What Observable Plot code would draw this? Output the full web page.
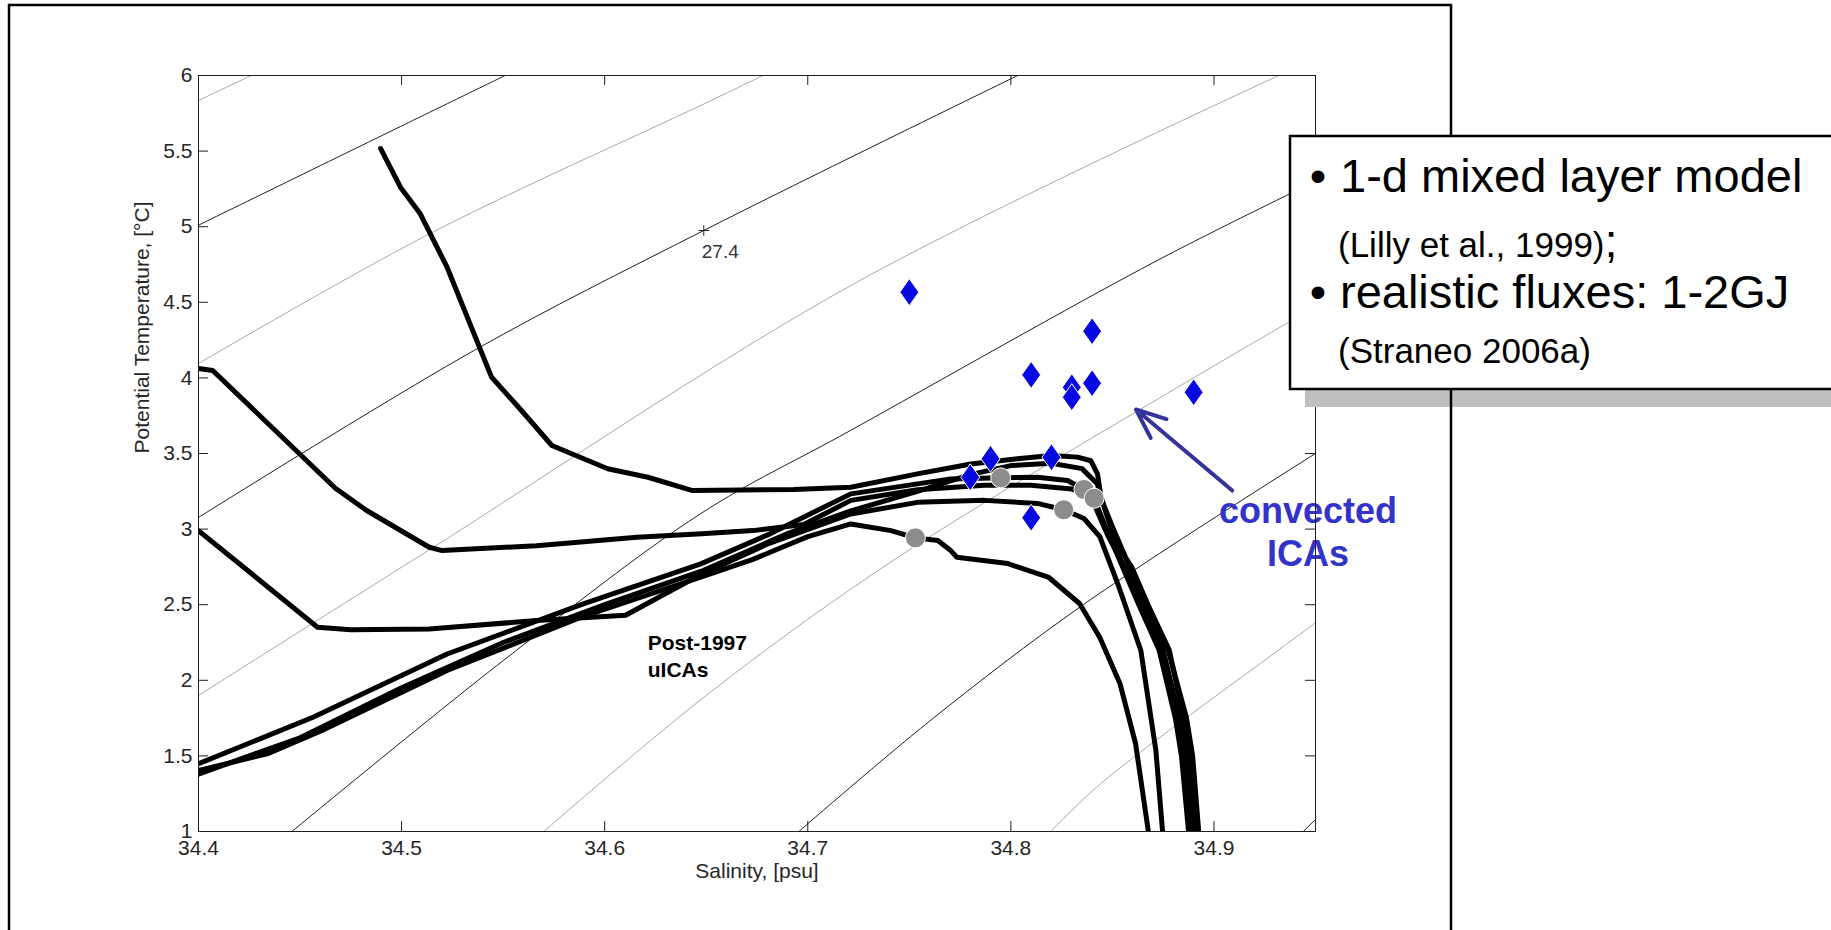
<!DOCTYPE html>
<html>
<head>
<meta charset="utf-8">
<script src="https://cdn.jsdelivr.net/npm/d3@7"></script>
<script src="https://cdn.jsdelivr.net/npm/@observablehq/plot@0.6"></script>
<style>
  html, body { margin: 0; padding: 0; background: #fff; }
  #chart { position: relative; width: 1831px; height: 930px; overflow: hidden; }
</style>
</head>
<body>
<div id="chart"></div>
<script>
// ---------- tick values ----------
const xTicks = [34.4, 34.5, 34.6, 34.7, 34.8, 34.9];
const yTicks = [1, 1.5, 2, 2.5, 3, 3.5, 4, 4.5, 5, 5.5, 6];

// ---------- isopycnals (salinity, potential temperature) ----------
const sigma2725 = [[34.4, 5.835], [34.426, 6.0]];
const sigma273  = [[34.4, 5.01], [34.4995, 5.663], [34.551, 6.0]];
const sigma2735 = [[34.4, 4.095], [34.5136, 4.952], [34.647, 5.80], [34.678, 6.0]];
const sigma274  = [[34.4, 3.077], [34.5355, 4.18], [34.6488, 4.975], [34.8034, 6.0]];
const sigma2745 = [[34.4, 1.90], [34.5133, 2.86], [34.7212, 4.611], [34.932, 6.0]];
const sigma275  = [[34.446, 1.0], [34.55, 2.13], [34.647, 3.10], [34.721, 3.652], [34.872, 4.776], [34.95, 5.30]];
const sigma2755 = [[34.570, 1.0], [34.65, 1.90], [34.742, 2.792], [34.8936, 4.029], [34.95, 4.47]];
const sigma276  = [[34.6956, 1.0], [34.76, 1.73], [34.8365, 2.508], [34.95, 3.5]];
const sigma2765 = [[34.8197, 1.0], [34.8443, 1.317], [34.9315, 2.197], [34.95, 2.38]];
const sigma277  = [[34.944, 1.0], [34.95, 1.08]];
const isoLabelPos = [34.6488, 4.975];
const isoLabelText = "27.4";

// ---------- T-S profiles ----------
const profile1 = [[34.4897,5.517],[34.4995,5.26],[34.5092,5.085],[34.5224,4.732],[34.5443,4.005],[34.5576,3.806],[34.574,3.553],[34.6015,3.399],[34.6213,3.343],[34.6433,3.255],[34.693,3.262],[34.7212,3.277],[34.754,3.365],[34.7803,3.431],[34.8033,3.465],[34.8197,3.487],[34.8329,3.476],[34.8394,3.452],[34.8427,3.364],[34.8445,3.2],[34.8505,3.0],[34.8585,2.75],[34.8665,2.5],[34.8775,2.2],[34.8865,1.75],[34.8895,1.5],[34.8925,1.0]];
const profile2 = [[34.4,4.062],[34.407,4.049],[34.4674,3.27],[34.4828,3.123],[34.5136,2.88],[34.52,2.858],[34.5664,2.89],[34.6158,2.946],[34.6478,2.97],[34.673,2.99],[34.698,3.03],[34.7212,3.19],[34.754,3.26],[34.7869,3.29],[34.81,3.29],[34.83,3.265],[34.841,3.204],[34.847,3.0],[34.855,2.75],[34.863,2.5],[34.873,2.2],[34.881,1.75],[34.884,1.5],[34.8875,1.0]];
const profile3 = [[34.4,2.99],[34.4586,2.351],[34.475,2.335],[34.5136,2.34],[34.5664,2.395],[34.6103,2.43],[34.6473,2.70],[34.68,2.90],[34.7212,3.10],[34.754,3.177],[34.7869,3.19],[34.8131,3.17],[34.826,3.128],[34.836,3.07],[34.8438,2.95],[34.8526,2.64],[34.864,2.197],[34.8714,1.536],[34.8747,1.0]];
const profile4 = [[34.4,1.448],[34.4564,1.756],[34.5224,2.174],[34.5884,2.50],[34.6473,2.77],[34.68,2.96],[34.7212,3.233],[34.7704,3.332],[34.795,3.339],[34.8131,3.343],[34.8279,3.321],[34.836,3.262],[34.8415,3.15],[34.848,2.95],[34.856,2.75],[34.8645,2.5],[34.875,2.2],[34.883,1.75],[34.886,1.5],[34.889,1.0]];
const profile5 = [[34.4,1.403],[34.4344,1.516],[34.4608,1.668],[34.5224,2.065],[34.5884,2.417],[34.6473,2.682],[34.673,2.80],[34.70,2.95],[34.7212,3.034],[34.741,2.99],[34.753,2.942],[34.764,2.925],[34.7704,2.858],[34.7734,2.814],[34.7985,2.772],[34.8187,2.68],[34.8338,2.508],[34.8438,2.283],[34.8537,1.979],[34.8614,1.582],[34.8677,1.0]];
const profile6 = [[34.4,1.38],[34.45,1.62],[34.50,1.95],[34.55,2.25],[34.60,2.50],[34.6473,2.72],[34.69,2.97],[34.7212,3.12],[34.754,3.25],[34.78,3.36],[34.80,3.42],[34.82,3.435],[34.835,3.40],[34.8425,3.30],[34.847,3.1],[34.852,2.9],[34.8595,2.75],[34.8675,2.5],[34.878,2.2],[34.885,1.75],[34.888,1.5],[34.8905,1.0]];

// ---------- markers ----------
const diamondS = [34.75, 34.84, 34.81, 34.84, 34.83, 34.83, 34.89, 34.79, 34.82, 34.78, 34.81];
const diamondT = [4.567, 4.309, 4.020, 3.965, 3.938, 3.872, 3.905, 3.465, 3.475, 3.343, 3.075];
const circleS = [34.795, 34.836, 34.841, 34.826, 34.753];
const circleT = [3.339, 3.262, 3.204, 3.128, 2.942];

// ---------- annotations ----------
const postLabelPos = [34.6212, 2.019];
const postLabelText = "Post-1997\nuICAs";
const convectedPos = [34.9463, 2.759];
const convectedText = "convected\nICAs";
const arrowFrom = [34.909, 3.255];
const arrowTo = [34.8616, 3.791];
const xLabel = "Salinity, [psu]";
const yLabel = "Potential Temperature, [°C]";
const boxLine1 = "1-d mixed layer model";
const boxLine2 = "(Lilly et al., 1999)";
const boxLine3 = "realistic fluxes: 1-2GJ";
const boxLine4 = "(Straneo 2006a)";

// ---------- build tables ----------
const rows = (arr, key) => arr.map(([s, t]) => ({key, s, t}));
const majorIso = [...rows(sigma273, 27.3), ...rows(sigma274, 27.4), ...rows(sigma275, 27.5), ...rows(sigma276, 27.6), ...rows(sigma277, 27.7)];
const minorIso = [...rows(sigma2725, 27.25), ...rows(sigma2735, 27.35), ...rows(sigma2745, 27.45), ...rows(sigma2755, 27.55), ...rows(sigma2765, 27.65)];
const profRows = [profile1, profile2, profile3, profile4, profile5, profile6].flatMap((p, i) => rows(p, i));
const diamonds = diamondS.map((s, i) => ({s, t: diamondT[i]}));
const circles = circleS.map((s, i) => ({s, t: circleT[i]}));

const W = 1831, H = 930;
const mL = 198, mR = 516, mT = 75, mB = 99;
const innerW = W - mL - mR, innerH = H - mT - mB;
const tickLen = 10;
const FONT = "'Liberation Sans', Arial, Helvetica, sans-serif";

const tallDiamond = {
  draw(ctx, size) {
    const a = Math.sqrt(size / Math.PI);
    ctx.moveTo(0, -1.42 * a);
    ctx.lineTo(a, 0);
    ctx.lineTo(0, 1.42 * a);
    ctx.lineTo(-a, 0);
    ctx.closePath();
  }
};

const plot = Plot.plot({
  width: W, height: H,
  marginLeft: mL, marginRight: mR, marginTop: mT, marginBottom: mB,
  style: {fontFamily: FONT, color: "#262626", background: "white"},
  x: {domain: [34.4, 34.95]},
  y: {domain: [1, 6]},
  marks: [
    Plot.line(minorIso, {x: "s", y: "t", z: "key", stroke: "#a8a8a8", strokeWidth: 1, curve: "catmull-rom", clip: true}),
    Plot.line(majorIso, {x: "s", y: "t", z: "key", stroke: "#1e1e1e", strokeWidth: 1, curve: "catmull-rom", clip: true}),
    Plot.dot([isoLabelPos], {x: d => d[0], y: d => d[1], symbol: "plus", r: 3.5, stroke: "#1e1e1e", strokeWidth: 1}),
    Plot.text([isoLabelPos], {x: d => d[0], y: d => d[1], text: () => isoLabelText, textAnchor: "start", lineAnchor: "bottom", dx: -2, dy: 28, fontSize: 19, fill: "#333"}),
    Plot.line(profRows, {x: "s", y: "t", z: "key", stroke: "black", strokeWidth: 5, strokeLinejoin: "round", strokeLinecap: "round", clip: true}),
    Plot.dot(circles, {x: "s", y: "t", r: 10, fill: "#8c8c8c", stroke: "white", strokeWidth: 1}),
    Plot.dot(diamonds, {x: "s", y: "t", r: 9.5, symbol: tallDiamond, fill: "#0808e0", stroke: "white", strokeWidth: 1}),
    Plot.text([postLabelPos], {x: d => d[0], y: d => d[1], text: () => postLabelText, textAnchor: "start", lineAnchor: "bottom", lineHeight: 1.29, fontSize: 21, fontWeight: "bold", fill: "black"}),
    Plot.arrow([[...arrowFrom, ...arrowTo]], {x1: d => d[0], y1: d => d[1], x2: d => d[2], y2: d => d[3], stroke: "#333399", strokeWidth: 4, headLength: 12, headAngle: 45}),
    Plot.text([convectedPos], {x: d => d[0], y: d => d[1], text: () => convectedText, textAnchor: "middle", lineAnchor: "bottom", lineHeight: 1.19, fontSize: 36, fontWeight: "bold", fill: "#3333cc"}),
    Plot.frame({stroke: "#1e1e1e", strokeWidth: 1}),
    Plot.tickX(xTicks, {x: d => d, insetTop: innerH - tickLen, stroke: "#1e1e1e"}),
    Plot.tickX(xTicks, {x: d => d, insetBottom: innerH - tickLen, stroke: "#1e1e1e"}),
    Plot.tickY(yTicks, {y: d => d, insetRight: innerW - tickLen, stroke: "#1e1e1e"}),
    Plot.tickY(yTicks, {y: d => d, insetLeft: innerW - tickLen, stroke: "#1e1e1e"}),
    Plot.axisX({ticks: xTicks, tickSize: 0, tickPadding: 9, fontSize: 21, tickFormat: d => String(d), label: null}),
    Plot.axisY({ticks: yTicks, tickSize: 0, tickPadding: 6, fontSize: 21, tickFormat: d => String(d), label: null}),
    Plot.text([xLabel], {frameAnchor: "bottom", dy: 46, text: d => d, fontSize: 21}),
    Plot.text([yLabel], {frameAnchor: "left", dx: -56, rotate: -90, text: d => d, fontSize: 21})
  ]
});

document.getElementById("chart").appendChild(plot);

// ---------- slide decorations: outer frame and text box ----------
const svg = d3.select(plot);
const ov = svg.append("g").attr("font-family", FONT).attr("text-anchor", "start");
ov.append("rect").attr("x", 1305).attr("y", 154).attr("width", 600).attr("height", 253).attr("fill", "#bfbfbf");
ov.append("rect").attr("x", 9).attr("y", 5).attr("width", 1442).attr("height", 1000)
  .attr("fill", "none").attr("stroke", "black").attr("stroke-width", 2.5);
ov.append("rect").attr("x", 1290).attr("y", 136).attr("width", 600).attr("height", 253)
  .attr("fill", "white").attr("stroke", "black").attr("stroke-width", 2.5);

const addText = (x, y, size, str, anchor = "start") => ov.append("text")
  .attr("x", x).attr("y", y).attr("font-size", size).attr("fill", "black")
  .attr("text-anchor", anchor).text(str);
addText(1318, 192, 47, "•", "middle");
addText(1318, 308, 47, "•", "middle");
addText(1340, 192, 47, boxLine1);
const l2 = ov.append("text").attr("x", 1338).attr("y", 257).attr("fill", "black").attr("text-anchor", "start");
l2.append("tspan").attr("font-size", 35).text(boxLine2);
l2.append("tspan").attr("font-size", 47).text(";");
addText(1340, 308, 47, boxLine3);
addText(1338, 363, 35, boxLine4);
</script>
</body>
</html>
